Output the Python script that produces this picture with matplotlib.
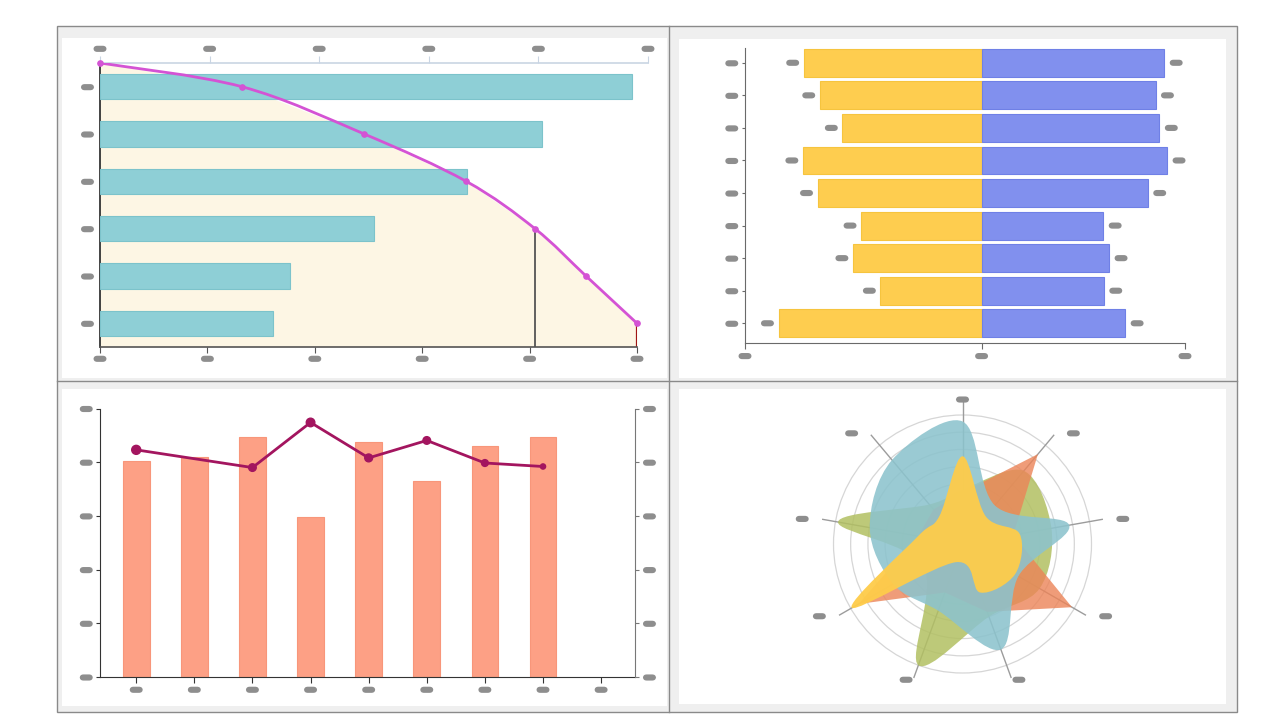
import numpy as np
import matplotlib
matplotlib.use("Agg")
import matplotlib.pyplot as plt
from matplotlib.patches import Rectangle, Circle, PathPatch, Polygon
from matplotlib.lines import Line2D
from matplotlib.path import Path

# ---- data ----
# top left: horizontal bars (top scale) + cumulative percent line (bottom scale)
pareto_values = [48.5, 40.3, 33.5, 25.0, 17.3, 15.8]
pareto_cum = [0, 26.4, 49.2, 68.2, 81.0, 90.5, 100]
pareto_cum_rows = [-0.5, 0, 1, 2, 3, 4, 5]

# top right: diverging bars, top row first
left_values = [87.4, 79.5, 68.4, 87.8, 80.6, 59.2, 63.2, 49.7, 99.8]
right_values = [89.8, 85.5, 87.4, 91.2, 81.7, 59.8, 62.7, 60.1, 70.6]

# bottom left: bars (left axis) + line (right axis)
bar_values = [80.4, 81.8, 89.4, 59.5, 87.7, 73.0, 85.9, 89.4]
line_x = [0, 2, 3, 4, 5, 6, 7]
line_values = [84.6, 78.0, 94.8, 81.6, 88.1, 79.7, 78.4]
line_marker_sizes = [42, 30, 38, 32, 30, 24, 14]

# bottom right: radar, 9 spokes clockwise from the top, % of outer ring
radar_olive = [42, 74, 70, 69, 60, 100, 35, 98, 40]
radar_orange = [40, 91, 40, 98, 56, 40, 93, 35, 35]
radar_teal = [95, 39, 84, 50, 87, 55, 62, 73, 85]
radar_yellow = [68, 28, 45, 47, 40, 15, 99, 35, 28]

# ---- styling helpers ----
W, H = 1280, 720
BLANK = "\u2007" * 4
PILL = dict(boxstyle="round,pad=0.12,rounding_size=0.8", fc="#8e8e8e", ec="none")
PILL_FS = 3.4

fig = plt.figure(figsize=(12.8, 7.2), dpi=100)


def rect(x0, y0, x1, y1):
    return [x0 / W, 1 - y1 / H, (x1 - x0) / W, (y1 - y0) / H]


def fig_box(x0, y0, x1, y1, **kw):
    fig.add_artist(Rectangle((x0 / W, 1 - y1 / H), (x1 - x0) / W, (y1 - y0) / H,
                             transform=fig.transFigure, zorder=-10, **kw))


def pill_labels(setter, ticks):
    setter(ticks, [BLANK] * len(ticks), fontsize=PILL_FS, bbox=PILL)


def smooth_path(xs, ys, closed=False):
    # catmull-rom through the points, drawn as cubic beziers
    pts = np.column_stack([xs, ys]).astype(float)
    n = len(pts)
    verts, codes = [pts[0]], [Path.MOVETO]
    for i in range(n if closed else n - 1):
        if closed:
            p0, p1, p2, p3 = pts[i - 1], pts[i], pts[(i + 1) % n], pts[(i + 2) % n]
        else:
            p0, p1 = pts[max(i - 1, 0)], pts[i]
            p2, p3 = pts[i + 1], pts[min(i + 2, n - 1)]
        verts += [p1 + (p2 - p0) / 6, p2 - (p3 - p1) / 6, p2]
        codes += [Path.CURVE4] * 3
    if closed:
        verts.append(pts[0])
        codes.append(Path.CLOSEPOLY)
    return Path(verts, codes)


# panel frame
fig_box(57, 26, 1237, 712, fc="#efefef", ec="#8a8a8a", lw=1)
for b in [(62, 38, 667, 378), (679, 39, 1226, 378), (62, 389, 667, 706), (679, 389, 1226, 704)]:
    fig_box(*b, fc="white", ec="none")
fig.add_artist(Line2D([669 / W] * 2, [1 - 26 / H, 1 - 712 / H], transform=fig.transFigure,
                      color="#8a8a8a", lw=1, zorder=-9))
fig.add_artist(Line2D([57 / W, 1237 / W], [1 - 381 / H] * 2, transform=fig.transFigure,
                      color="#8a8a8a", lw=1, zorder=-9))

# ---- panel 1 ----
ax1p = fig.add_axes(rect(100, 63, 637, 347), zorder=1)
ax1b = fig.add_axes(rect(100, 63, 648, 347), zorder=2)
rows1 = np.arange(len(pareto_values))
for a in (ax1p, ax1b):
    a.set_facecolor("none")
    a.set_ylim(5.5, -0.5)
ax1p.set_xlim(0, 100)
ax1b.set_xlim(0, 50)

ax1p.fill_betweenx(pareto_cum_rows + [5.5], 0, pareto_cum + [pareto_cum[-1]],
                   color="#fdf6e4", lw=0)
ax1p.vlines(pareto_cum[4], pareto_cum_rows[4], 5.5, color="#555555", lw=1.3)
ax1p.vlines(pareto_cum[-1], pareto_cum_rows[-1], 5.5, color="#a01515", lw=1.6)
ax1b.barh(rows1, pareto_values, height=0.53, color="#8ecfd6", edgecolor="#7cc3cb", lw=0.8)
ax1b.add_patch(PathPatch(smooth_path(pareto_cum, pareto_cum_rows), fill=False,
                         ec="#d453d4", lw=2, transform=ax1p.transData, zorder=5))
ax1b.plot(pareto_cum, pareto_cum_rows, ls="none", color="#d453d4", marker="o", ms=3.8,
          transform=ax1p.transData, clip_on=False, zorder=6)

for s in ("top", "right"):
    ax1p.spines[s].set_visible(False)
ax1p.spines["left"].set_color("#222222")
ax1p.spines["bottom"].set_color("#555555")
ax1p.spines["left"].set_linewidth(1.2)
ax1p.spines["bottom"].set_linewidth(1.2)
pill_labels(ax1p.set_xticks, [0, 20, 40, 60, 80, 100])
pill_labels(ax1p.set_yticks, list(rows1))
ax1p.tick_params(axis="x", length=4, color="#555555", pad=2.7)
ax1p.tick_params(axis="y", length=0, pad=4.7)

for s in ("bottom", "left", "right"):
    ax1b.spines[s].set_visible(False)
ax1b.spines["top"].set_color("#c9d5e3")
ax1b.spines["top"].set_linewidth(1.2)
ax1b.xaxis.tick_top()
pill_labels(ax1b.set_xticks, [0, 10, 20, 30, 40, 50])
ax1b.set_yticks([])
ax1b.tick_params(axis="x", length=5, color="#c9d5e3", pad=3.4)

# ---- panel 2 ----
ax2 = fig.add_axes(rect(745, 48.3, 1185, 343.3))
ax2.set_facecolor("none")
rows2 = np.arange(len(left_values))
ax2.barh(rows2, [-v for v in left_values], height=0.855, color="#fecd4f",
         edgecolor="#f6c43e", lw=0.8)
ax2.barh(rows2, right_values, height=0.855, color="#8190ee", edgecolor="#6f80e6", lw=0.8)
for i in rows2:
    ax2.annotate(BLANK, (-left_values[i], i), xytext=(-8, 0), textcoords="offset points",
                 ha="center", va="center", fontsize=PILL_FS, bbox=PILL)
    ax2.annotate(BLANK, (right_values[i], i), xytext=(8.6, 0), textcoords="offset points",
                 ha="center", va="center", fontsize=PILL_FS, bbox=PILL)
ax2.set_xlim(-116.3, 100)
ax2.set_ylim(8.615, -0.445)
for s in ("top", "right"):
    ax2.spines[s].set_visible(False)
for s in ("left", "bottom"):
    ax2.spines[s].set_color("#6a6a6a")
pill_labels(ax2.set_xticks, [-116.3, 0, 100])
pill_labels(ax2.set_yticks, list(rows2))
ax2.tick_params(axis="x", length=4, color="#6a6a6a", pad=3.4)
ax2.tick_params(axis="y", length=2, color="#6a6a6a", pad=3.2)

# ---- panel 3 ----
ax3 = fig.add_axes(rect(100.3, 408.5, 635.4, 677))
ax3.set_facecolor("none")
ax3.bar(range(len(bar_values)), bar_values, width=0.46, color="#fda085",
        edgecolor="#f8967a", lw=0.8)
ax3.set_xlim(-0.618, 8.59)
ax3.set_ylim(0, 100)
ax3r = ax3.twinx()
ax3r.set_ylim(0, 100)
ax3r.plot(line_x, line_values, color="#a3155f", lw=2)
ax3r.scatter(line_x, line_values, s=line_marker_sizes, color="#a3155f", zorder=3)
for s in ("top", "right"):
    ax3.spines[s].set_visible(False)
for s in ("top", "left", "bottom"):
    ax3r.spines[s].set_visible(False)
ax3.spines["left"].set_color("#333333")
ax3.spines["bottom"].set_color("#333333")
ax3r.spines["right"].set_color("#777777")
pill_labels(ax3.set_xticks, list(range(9)))
pill_labels(ax3.set_yticks, [0, 20, 40, 60, 80, 100])
pill_labels(ax3r.set_yticks, [0, 20, 40, 60, 80, 100])
ax3.tick_params(axis="x", length=4, color="#333333", pad=3.4)
ax3.tick_params(axis="y", length=3, color="#333333", pad=2.8)
ax3r.tick_params(axis="y", length=3, color="#777777", pad=2.8)

# ---- panel 4 ----
R = 180.6
ax4 = fig.add_axes(rect(962.5 - R, 544 - R, 962.5 + R, 544 + R))
ax4.set_xlim(-1.4, 1.4)
ax4.set_ylim(-1.4, 1.4)
ax4.axis("off")
ang = np.deg2rad(np.arange(9) * 40)


def radar_xy(values):
    r = np.asarray(values) / 100.0
    return r * np.sin(ang), r * np.cos(ang)


for rr in [0.467, 0.6, 0.733, 0.867, 1.0]:
    ax4.add_patch(Circle((0, 0), rr, fill=False, ec="#d6d6d6", lw=0.9, zorder=1))
for a in ang:
    ax4.plot([0, 1.1 * np.sin(a)], [0, 1.1 * np.cos(a)], color="#9c9c9c", lw=1, zorder=1)

ax4.add_patch(PathPatch(smooth_path(*radar_xy(radar_olive), closed=True), fc="#b2c062",
                        ec="none", alpha=0.85, zorder=2))
ax4.add_patch(Polygon(np.column_stack(radar_xy(radar_orange)), closed=True, fc="#ec8458",
                      ec="none", alpha=0.8, zorder=3))
ax4.add_patch(PathPatch(smooth_path(*radar_xy(radar_teal), closed=True), fc="#8cc3cd",
                        ec="none", alpha=0.88, zorder=4))
ax4.add_patch(PathPatch(smooth_path(*radar_xy(radar_yellow), closed=True), fc="#fecc4a",
                        ec="none", alpha=0.95, zorder=5))

for a in ang:
    s = np.sin(a)
    if abs(s) > 0.5:
        dx = 18 * np.sign(s)
    elif abs(s) > 0.1:
        dx = 7 * np.sign(s)
    else:
        dx = 0
    ax4.annotate(BLANK, (1.12 * s, 1.12 * np.cos(a)), xytext=(dx * 0.72, 0),
                 textcoords="offset points", ha="center", va="center",
                 fontsize=PILL_FS, bbox=PILL, annotation_clip=False)

fig.savefig("out.png", dpi=100)
